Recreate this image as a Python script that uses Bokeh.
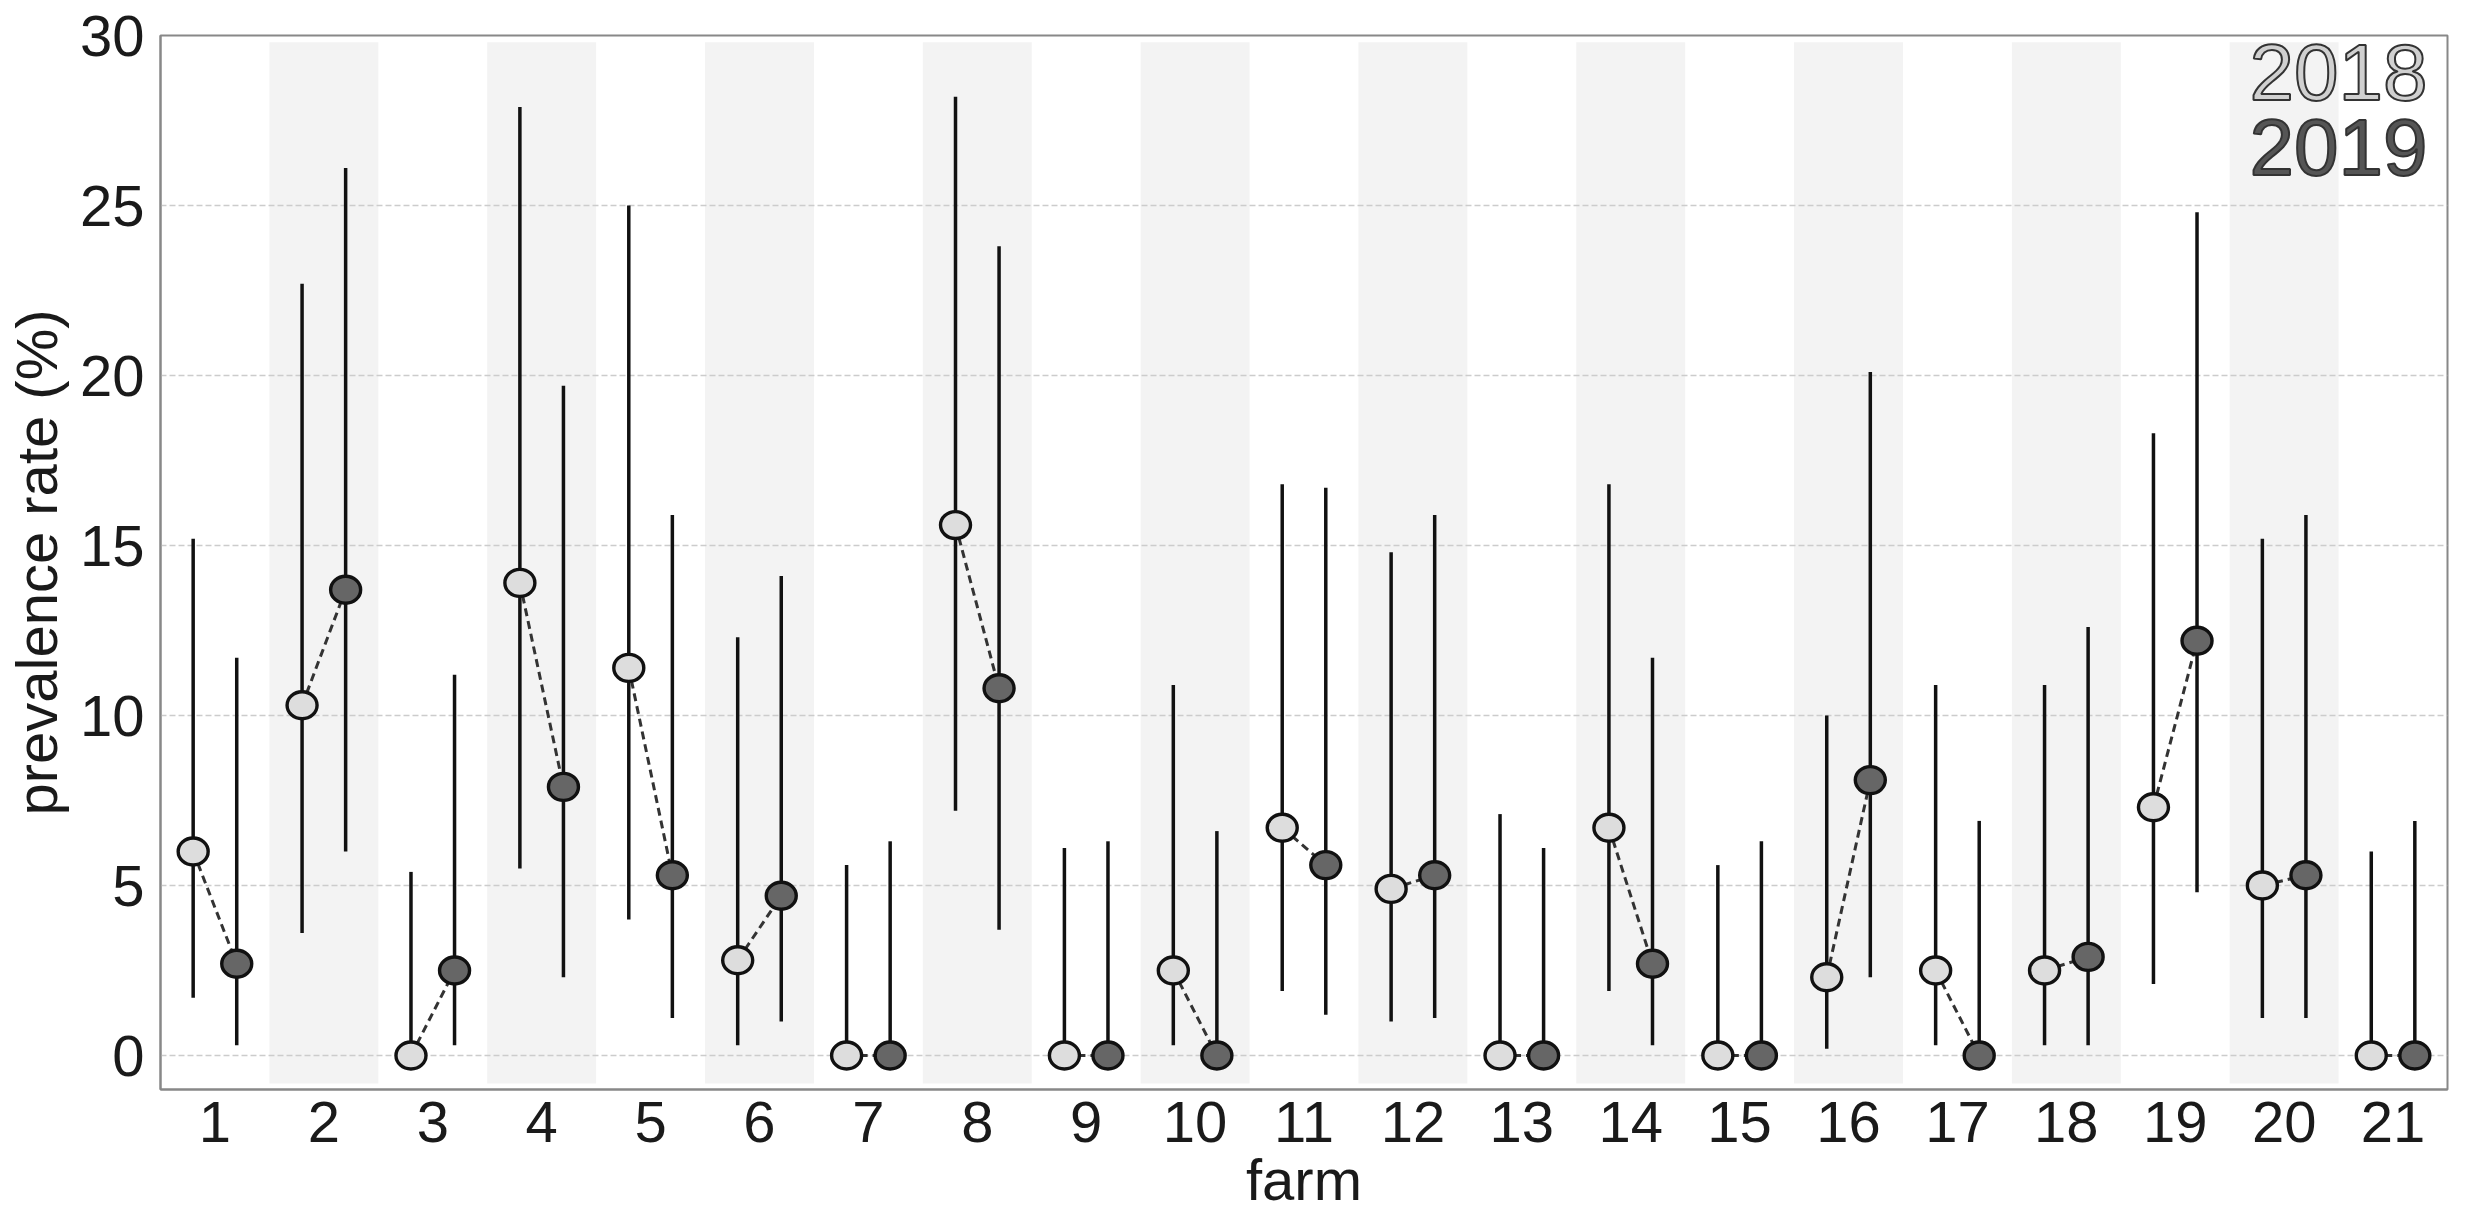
from bokeh.plotting import figure
from bokeh.models import FixedTicker, Label, Range1d
from bokeh.embed import file_html
from bokeh.resources import INLINE

farms = list(range(1, 22))
rate_2018 = [6.0, 10.3, 0.0, 13.9, 11.4, 2.8, 0.0, 15.6, 0.0, 2.5, 6.7, 4.9, 0.0, 6.7, 0.0, 2.3, 2.5, 2.5, 7.3, 5.0, 0.0]
low_2018 = [1.7, 3.6, 0.0, 5.5, 4.0, 0.3, 0.0, 7.2, 0.0, 0.3, 1.9, 1.0, 0.0, 1.9, 0.0, 0.2, 0.3, 0.3, 2.1, 1.1, 0.0]
high_2018 = [15.2, 22.7, 5.4, 27.9, 25.0, 12.3, 5.6, 28.2, 6.1, 10.9, 16.8, 14.8, 7.1, 16.8, 5.6, 10.0, 10.9, 10.9, 18.3, 15.2, 6.0]
rate_2019 = [2.7, 13.7, 2.5, 7.9, 5.3, 4.7, 0.0, 10.8, 0.0, 0.0, 5.6, 5.3, 0.0, 2.7, 0.0, 8.1, 0.0, 2.9, 12.2, 5.3, 0.0]
low_2019 = [0.3, 6.0, 0.3, 2.3, 1.1, 1.0, 0.0, 3.7, 0.0, 0.0, 1.2, 1.1, 0.0, 0.3, 0.0, 2.3, 0.0, 0.3, 4.8, 1.1, 0.0]
high_2019 = [11.7, 26.1, 11.2, 19.7, 15.9, 14.1, 6.3, 23.8, 6.3, 6.6, 16.7, 15.9, 6.1, 11.7, 6.3, 20.1, 6.9, 12.6, 24.8, 15.9, 6.9]
y_ticks = [0, 5, 10, 15, 20, 25, 30]
years = ["2018", "2019"]

FONT = "Liberation Sans"
offset = 0.2
x18 = [f - offset for f in farms]
x19 = [f + offset for f in farms]

p = figure(width=2461, height=1214, output_backend="svg", toolbar_location=None,
           x_range=Range1d(0.5, 21.5), y_range=Range1d(-1.0, 30.0),
           min_border_left=155, min_border_right=14, min_border_top=35, min_border_bottom=121)

# alternating background stripes for even farms
even = [f for f in farms if f % 2 == 0]
stripes = p.quad(left=[f - 0.5 for f in even], right=[f + 0.5 for f in even],
                 bottom=-0.82, top=29.8, fill_color="#f3f3f3", line_color=None)
stripes.level = "image"

# error bars
p.segment(x0=x18, y0=low_2018, x1=x18, y1=high_2018, line_color="#111111", line_width=3.5)
p.segment(x0=x19, y0=low_2019, x1=x19, y1=high_2019, line_color="#111111", line_width=3.5)

# dashed connectors
p.segment(x0=x18, y0=rate_2018, x1=x19, y1=rate_2019, line_color="#333333",
          line_width=3, line_dash="8 5")

# points
p.ellipse(x=x18, y=rate_2018, width=30, height=27, width_units="screen", height_units="screen",
          fill_color="#dddddd", line_color="#111111", line_width=3.4)
p.ellipse(x=x19, y=rate_2019, width=30, height=27, width_units="screen", height_units="screen",
          fill_color="#666666", line_color="#111111", line_width=3.4)

# axes
p.xaxis.ticker = FixedTicker(ticks=farms)
p.yaxis.ticker = FixedTicker(ticks=y_ticks)
p.xaxis.axis_label = "farm"
p.yaxis.axis_label = "prevalence rate (%)"
for ax in (p.xaxis, p.yaxis):
    ax.major_label_text_font = FONT
    ax.major_label_text_font_size = "58px"
    ax.major_label_text_color = "#1a1a1a"
    ax.axis_label_text_font = FONT
    ax.axis_label_text_font_size = "58px"
    ax.axis_label_text_font_style = "normal"
    ax.axis_label_text_color = "#1a1a1a"
    ax.major_tick_line_color = None
    ax.minor_tick_line_color = None
    ax.axis_line_color = "#888888"
    ax.axis_line_width = 2
p.xaxis.major_label_standoff = 6
p.yaxis.major_label_standoff = 10
p.xaxis.axis_label_standoff = 2
p.yaxis.axis_label_standoff = 8

p.xgrid.grid_line_color = None
p.ygrid.grid_line_color = "#cccccc"
p.ygrid.grid_line_width = 1.5
p.ygrid.grid_line_dash = "6 3"

p.outline_line_color = "#888888"
p.outline_line_width = 2
p.background_fill_color = "white"
p.border_fill_color = "white"

# legend as outlined text (screen units, relative to the plot frame)
leg_colors = ["#d0d0d0", "#555555"]
leg_y = [1017, 942]
for yr, col, yy in zip(years, leg_colors, leg_y):
    lab = Label(x=2267, y=yy, x_units="screen", y_units="screen", text=yr,
                text_align="right", text_baseline="alphabetic",
                text_font=FONT, text_font_size="80px", text_color=col,
                text_outline_color="#333333")
    p.add_layout(lab)

open("out.html", "w").write(file_html(p, INLINE))
